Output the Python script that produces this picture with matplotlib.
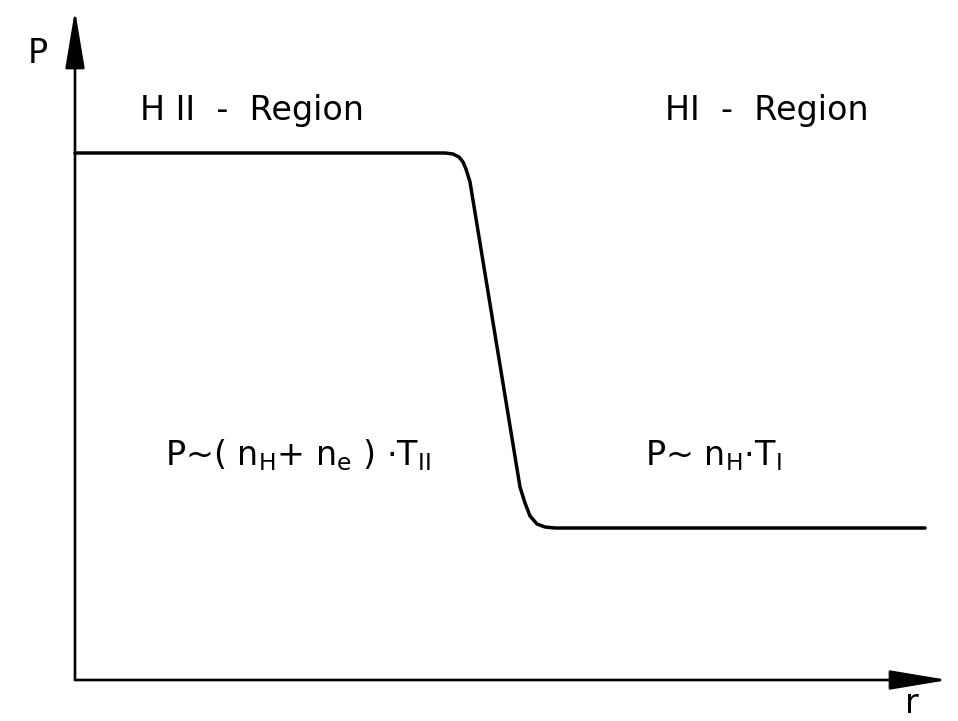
import numpy as np
import matplotlib
matplotlib.use('Agg')
import matplotlib.pyplot as plt

# pressure profile across the ionisation front
r = [0.00, 3.70, 3.78, 3.84, 3.88, 3.91, 3.95, 4.45, 4.50, 4.55, 4.62, 4.70, 4.80, 5.05, 8.50]
P = [5.27, 5.27, 5.26, 5.23, 5.18, 5.11, 4.98, 1.93, 1.77, 1.64, 1.56, 1.53, 1.52, 1.52, 1.52]

region_labels = ['H II  -  Region', 'HI  -  Region']
region_x = [0.65, 5.90]
formula_labels = [r'P~( n$_{\rm H}$+ n$_{\rm e}$ ) $\cdot$T$_{\rm II}$',
                  r'P~ n$_{\rm H}$$\cdot$T$_{\rm I}$']
formula_x = [0.90, 5.70]

fig = plt.figure(figsize=(9.58, 7.21), dpi=100)
ax = fig.add_axes([0, 0, 1, 1])
ax.set_xlim(-0.75, 8.83)
ax.set_ylim(-0.41, 6.80)
ax.axis('off')

# axes with arrows
arrow = dict(arrowstyle='-|>,head_length=1.8,head_width=0.3', mutation_scale=20,
             lw=1.9, color='black', shrinkA=0, shrinkB=0)
ax.annotate('', xy=(0, 6.70), xytext=(0, 0), arrowprops=arrow)
ax.annotate('', xy=(8.73, 0), xytext=(0, 0), arrowprops=arrow)
ax.text(-0.47, 6.17, 'P', fontsize=24, ha='left', va='baseline')
ax.text(8.30, -0.33, 'r', fontsize=24, ha='left', va='baseline')

ax.plot(r, P, color='black', lw=2.5, solid_capstyle='round', solid_joinstyle='round')

for lab, x in zip(region_labels, region_x):
    ax.text(x, 5.60, lab, fontsize=24, ha='left', va='baseline')
for lab, x in zip(formula_labels, formula_x):
    ax.text(x, 2.15, lab, fontsize=24, ha='left', va='baseline')

fig.savefig('out.png', dpi=100, facecolor='white')
